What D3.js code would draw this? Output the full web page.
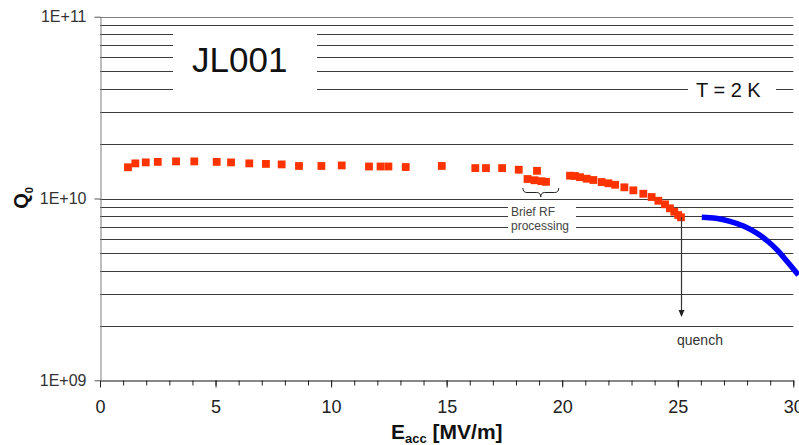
<!DOCTYPE html>
<html>
<head>
<meta charset="utf-8">
<script src="https://cdn.jsdelivr.net/npm/d3@7"></script>
<style>
  html, body { margin: 0; padding: 0; background: #fff; overflow: hidden; }
  svg { display: block; font-family: "Liberation Sans", Arial, sans-serif; }
</style>
</head>
<body>
<svg id="chart" width="799" height="445"></svg>
<script>
// Q0 vs. accelerating gradient, cavity JL001 at 2 K
const eaccMeasured = [1.21, 1.53, 1.98, 2.50, 3.29, 4.08, 5.05, 5.67, 6.46, 7.18, 7.86, 8.61,
  9.58, 10.46, 11.64, 12.14, 12.48, 13.23, 14.79, 16.24, 16.70, 17.40, 18.12, 18.91,
  18.50, 18.80, 19.10, 19.30,
  20.34, 20.55, 20.77, 21.06, 21.35, 21.71, 22.00, 22.29, 22.69, 23.08, 23.51, 23.87,
  24.16, 24.45, 24.66, 24.85, 25.02, 25.14];
const q0Measured = [1.485e10, 1.56e10, 1.58e10, 1.59e10, 1.60e10, 1.60e10, 1.59e10, 1.58e10,
  1.56e10, 1.55e10, 1.54e10, 1.51e10,
  1.51e10, 1.52e10, 1.50e10, 1.50e10, 1.50e10, 1.49e10, 1.51e10, 1.47e10, 1.47e10, 1.47e10,
  1.44e10, 1.42e10,
  1.28e10, 1.26e10, 1.245e10, 1.235e10,
  1.335e10, 1.33e10, 1.31e10, 1.285e10, 1.264e10, 1.232e10, 1.212e10, 1.19e10, 1.152e10,
  1.109e10, 1.062e10, 1.019e10,
  9.72e9, 9.29e9, 8.83e9, 8.46e9, 8.11e9, 7.88e9];

// blue Q-slope curve beyond the quench field
const eaccCurve = [26.04, 26.65, 27.26, 27.87, 28.43, 28.91, 29.34, 29.77, 30.22];
const q0Curve   = [7.88e9, 7.785e9, 7.49e9, 7.035e9, 6.436e9, 5.80e9, 5.145e9, 4.446e9, 3.795e9];

const xTicks = [0, 5, 10, 15, 20, 25, 30];
const xMinorTicks = d3.range(0, 31, 1);
const yTicks = [1e9, 1e10, 1e11];
const yTickLabels = ["1E+09", "1E+10", "1E+11"];
const gridValues = [2e9, 3e9, 4e9, 5e9, 6e9, 7e9, 8e9, 9e9, 1e10,
  2e10, 3e10, 4e10, 5e10, 6e10, 7e10, 8e10, 9e10, 1e11];

const svg = d3.select("#chart");
const x = d3.scaleLinear().domain([0, 30]).range([100, 793.3]);
const y = d3.scaleLog().domain([1e9, 1e11]).range([380.3, 16.7]);

// horizontal grid lines
svg.append("g")
  .selectAll("line").data(gridValues).join("line")
  .attr("x1", x(0)).attr("x2", x(30))
  .attr("y1", d => Math.round(y(d)) + 0.5).attr("y2", d => Math.round(y(d)) + 0.5)
  .attr("stroke", d => (d === 1e11 ? "#808080" : "#3c3c3c"))
  .attr("stroke-width", 1);

// white label boxes over the grid
function labelBox(x0, y0, w, h) {
  svg.append("rect").attr("x", x0).attr("y", y0).attr("width", w).attr("height", h).attr("fill", "#fff");
}
labelBox(173, 28, 144, 67);
labelBox(688, 80, 88, 20);
labelBox(508, 201, 68, 33);

// x axis with major and minor ticks
const xAxisY = Math.round(y(1e9)) + 0.5;
svg.append("g")
  .attr("transform", `translate(0,${xAxisY})`)
  .call(d3.axisBottom(x).tickValues(xMinorTicks).tickSize(5).tickFormat(""))
  .call(g => g.select(".domain").remove())
  .call(g => g.selectAll("line").attr("stroke", "#222"));
svg.append("g")
  .attr("transform", `translate(0,${xAxisY})`)
  .call(d3.axisBottom(x).tickValues(xTicks).tickSize(7).tickPadding(13).tickSizeOuter(0))
  .call(g => g.select(".domain").attr("stroke", "#111"))
  .call(g => g.selectAll("line").attr("stroke", "#222"))
  .call(g => g.selectAll("text").attr("font-size", 18).attr("fill", "#222")
    .attr("font-family", "'Liberation Sans', Arial, sans-serif"));

// y axis (log)
svg.append("g")
  .attr("transform", "translate(100.5,0)")
  .call(d3.axisLeft(y).tickValues(yTicks).tickSize(6).tickPadding(8).tickSizeOuter(0)
    .tickFormat((d, i) => yTickLabels[i]))
  .call(g => g.select(".domain").attr("stroke", "#808080"))
  .call(g => g.selectAll("line").attr("stroke", "#555"))
  .call(g => g.selectAll("text").attr("font-size", 16).attr("fill", "#333")
    .attr("font-family", "'Liberation Sans', Arial, sans-serif"));

// axis titles
const xt = svg.append("text").attr("x", 391).attr("y", 439)
  .attr("font-size", 21).attr("font-weight", "bold").attr("fill", "#111");
xt.append("tspan").text("E");
xt.append("tspan").attr("font-size", 13).attr("dy", 4).text("acc");
xt.append("tspan").attr("dy", -4).text(" [MV/m]");

const yt = svg.append("text").attr("transform", "translate(28,198) rotate(-90)")
  .attr("text-anchor", "middle").attr("font-size", 20).attr("font-weight", "bold").attr("fill", "#111");
yt.append("tspan").text("Q");
yt.append("tspan").attr("font-size", 11).attr("dy", 5).text("0");

// measured points
svg.append("g")
  .selectAll("rect").data(eaccMeasured.map((e, i) => [e, q0Measured[i]])).join("rect")
  .attr("x", d => x(d[0]) - 3.9).attr("y", d => y(d[1]) - 3.9)
  .attr("width", 7.8).attr("height", 7.8)
  .attr("fill", "#ff3300");

// Q-slope curve
svg.append("path")
  .datum(eaccCurve.map((e, i) => [e, q0Curve[i]]))
  .attr("d", d3.line().x(d => x(d[0])).y(d => y(d[1])).curve(d3.curveCatmullRom))
  .attr("fill", "none").attr("stroke", "#0000ff").attr("stroke-width", 5.5);

// quench arrow
const qx = Math.round(x(25.14)) + 0.5;
svg.append("line").attr("x1", qx).attr("x2", qx)
  .attr("y1", y(7.88e9)).attr("y2", 311)
  .attr("stroke", "#333").attr("stroke-width", 1.2);
svg.append("path")
  .attr("d", `M${qx - 3},310 L${qx + 3},310 L${qx},317 Z`)
  .attr("fill", "#222");
svg.append("text").attr("x", 677).attr("y", 345)
  .attr("font-size", 14).attr("fill", "#333").text("quench");

// brace under the RF processing points
const bx0 = x(18.3), bx1 = x(19.85), bm = x(19.07);
svg.append("path")
  .attr("d", `M${bx0},188 Q${bx0},192.5 ${bx0 + 4},192.5 L${bm - 4},192.5 Q${bm},192.5 ${bm},197 ` +
    `Q${bm},192.5 ${bm + 4},192.5 L${bx1 - 4},192.5 Q${bx1},192.5 ${bx1},188`)
  .attr("fill", "none").attr("stroke", "#222").attr("stroke-width", 1);
svg.append("text").attr("x", 511).attr("y", 216)
  .attr("font-size", 12).attr("fill", "#444").text("Brief RF");
svg.append("text").attr("x", 511).attr("y", 230)
  .attr("font-size", 12).attr("fill", "#444").text("processing");

// labels
svg.append("text").attr("x", 192).attr("y", 72)
  .attr("font-size", 35).attr("fill", "#111").text("JL001");
svg.append("text").attr("x", 696).attr("y", 97)
  .attr("font-size", 20).attr("fill", "#111").text("T = 2 K");
</script>
</body>
</html>
